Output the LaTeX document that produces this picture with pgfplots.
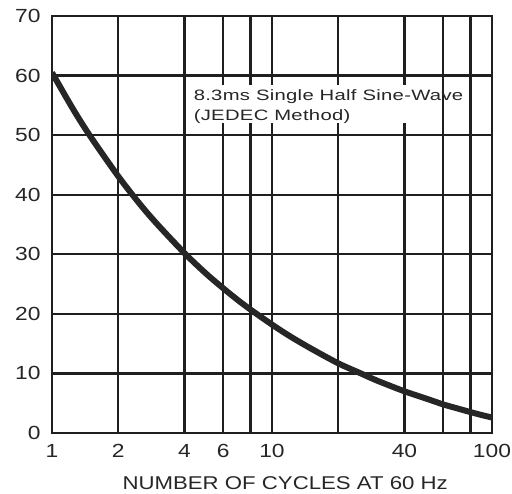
\documentclass[border=0pt]{standalone}
\usepackage{pgfplots}
\pgfplotsset{compat=1.18}
\usepackage{fontspec}
\setmainfont[FakeStretch=1.2]{Liberation Sans}
\newfontfamily\boxfont[FakeStretch=1.35,LetterSpace=2]{Liberation Sans}

\begin{document}
\begin{tikzpicture}
\useasboundingbox (-52pt,-61pt) rectangle (460pt,433pt);
\begin{axis}[
  scale only axis,
  width=440pt, height=417pt,
  xmode=log,
  xmin=1, xmax=100, ymin=0, ymax=70,
  xtick={1,2,4,6,8,10,20,40,60,80,100},
  xticklabels={1,2,4,6,,10,,40,,,100},
  minor xtick={},
  ytick={0,10,...,70},
  grid=major,
  grid style={line width=2.4pt, black!88},
  axis line style={line width=2.8pt, black!88},
  tick style={draw=none},
  /pgf/number format/assume math mode=true,
  ticklabel style={font=\fontsize{19}{19}\selectfont, black!85},
  xticklabel style={yshift=-8pt},
  yticklabel style={xshift=-8pt},
  xlabel={NUMBER OF CYCLES AT 60 Hz},
  xlabel style={font=\fontsize{18.5}{18.5}\selectfont, black!85,
    at={(axis description cs:0.53,0)}, anchor=center, yshift=-50pt},
]
\fill[white] (axis cs:4.15,52.0) rectangle (axis cs:47,58.5);
\node[anchor=north west, align=left, inner sep=0pt,
  font=\boxfont\fontsize{15}{19.5}\selectfont, black!85]
  at (axis cs:4.4,57.6) {8.3ms Single Half Sine-Wave\\(JEDEC Method)};
% curve
\addplot[line width=6pt, black!85, smooth, tension=0.5] coordinates {
  (1,60.5) (1.25,54.3) (1.5,49.7) (2,43.1) (2.5,38.5) (3,35.1) (4,30.2)
  (5,26.8) (6,24.3) (7,22.3) (8,20.7) (10,18.2) (12,16.3) (15,14.2)
  (20,11.7) (25,10.1) (30,8.8) (40,7.0) (50,5.8) (60,4.8) (70,4.1)
  (80,3.5) (90,3.0) (100,2.6)
};
\end{axis}
\end{tikzpicture}
\end{document}
